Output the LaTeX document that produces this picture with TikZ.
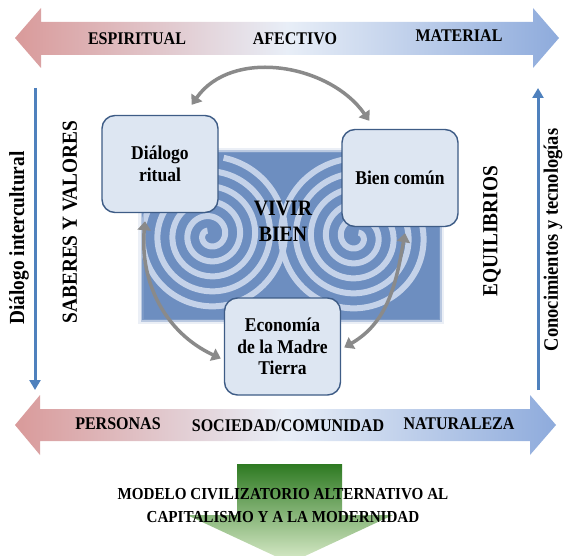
\documentclass[tikz,border=0pt]{standalone}
\usepackage{fontspec}
\setmainfont[FakeStretch=0.9]{Liberation Serif}
\usepackage{tikz}
\usetikzlibrary{arrows.meta}
\definecolor{rosa}{HTML}{D99A9A}
\definecolor{palido}{HTML}{E8EEF7}
\definecolor{azulf}{HTML}{8EABDC}
\definecolor{acero}{HTML}{4F81BD}
\definecolor{fondo}{HTML}{6D8EC0}
\definecolor{espiral}{HTML}{C4D2E9}
\definecolor{caja}{HTML}{DDE6F2}
\definecolor{borde}{HTML}{3E5C86}
\definecolor{gris}{HTML}{8A8A8A}
\definecolor{verdeo}{HTML}{2E7A22}
\definecolor{verdec}{HTML}{DCEDCC}
\tikzset{lbl/.style={font=\fontsize{17.8}{20}\selectfont\bfseries},
vlbl/.style={rotate=90,font=\fontsize{21.5}{24}\selectfont\bfseries},
bloque/.style={draw=borde,fill=caja,line width=1.4pt,rounded corners=13pt,minimum width=116pt,minimum height=97pt,align=center,font=\fontsize{19.5}{21.5}\selectfont\bfseries},
ciclo/.style={draw=gris,line width=3.5pt,{Triangle[length=9pt,width=13pt]}-{Triangle[length=9pt,width=13pt]}},
eje/.style={draw=acero,line width=3pt,-{Triangle[length=10pt,width=11pt]}}}

\begin{document}
\begin{tikzpicture}[x=1pt,y=1pt]
\useasboundingbox (0,0) rectangle (565,-556);
\clip (0,0) rectangle (565,-556);
\shade[left color=rosa,right color=azulf,middle color=palido] (15,-38) -- (41,-8) -- (41,-22) -- (533,-22) -- (533,-8) -- (559,-38) -- (533,-68) -- (533,-55) -- (41,-55) -- (41,-68) -- cycle;
\node[lbl] (espiritual) at (137,-39) {ESPIRITUAL};
\node[lbl] (afectivo) at (295,-39) {AFECTIVO};
\node[lbl] (material) at (459,-36) {MATERIAL};

\shade[left color=rosa,right color=azulf,middle color=palido] (15,-425) -- (40,-395) -- (40,-409) -- (530,-409) -- (530,-395) -- (556,-425) -- (530,-455) -- (530,-441) -- (40,-441) -- (40,-455) -- cycle;
\node[lbl] (personas) at (118,-424) {PERSONAS};
\node[lbl] (sociedad) at (288,-426) {SOCIEDAD/COMUNIDAD};
\node[lbl] (naturaleza) at (459,-424) {NATURALEZA};

\draw[fondo!40!white,opacity=0.35,line width=8pt] (142,-152) rectangle (440,-320);
\fill[fondo] (142,-152) rectangle (440,-320);
\begin{scope}
\clip (142,-152) rectangle (440,-320);
\draw[espiral,line width=6pt] plot[domain=120:1880,samples=300,smooth] ({210+0.0417*\x*cos(\x)},{-235+0.0417*\x*sin(\x)});
\draw[espiral,line width=6pt] plot[domain=120:1880,samples=300,smooth] ({356-0.0417*\x*cos(\x)},{-237+0.0417*\x*sin(\x)});
\end{scope}
\draw[fondo!80!white,opacity=0.5,line width=3pt] (142,-152) rectangle (440,-320);

\node[font=\fontsize{22}{26}\selectfont\bfseries,align=center] (vivir) at (283,-221) {VIVIR\\BIEN};
\node[bloque] (dialogo) at (160,-164) {Diálogo\\ritual};
\node[bloque] (bien) at (400,-178) {Bien común};
\node[bloque] (economia) at (282.5,-346.5) {Economía\\de la Madre\\Tierra};

\draw[ciclo] ([xshift=-27pt,yshift=10pt]dialogo.north east) to[out=55,in=125] ([xshift=28pt,yshift=8pt]bien.north west);
\draw[ciclo] ([xshift=-15pt,yshift=-8pt]dialogo.south) to[out=-95,in=155] ([xshift=-3pt,yshift=-12pt]economia.west);
\draw[ciclo] ([xshift=5pt,yshift=-6pt]bien.south) to[out=-100,in=30] ([xshift=3pt,yshift=-1pt]economia.east);

\coordinate (izqa) at (35,-88);
\coordinate (izqb) at (35,-390);
\draw[eje] (izqa) -- (izqb);
\coordinate (dera) at (538,-390);
\coordinate (derb) at (538,-88);
\draw[eje] (dera) -- (derb);
\node[vlbl] (intercultural) at (19,-238) {Diálogo intercultural};
\node[vlbl] (saberes) at (70,-222) {SABERES Y VALORES};
\node[vlbl] (equilibrios) at (492,-231) {EQUILIBRIOS};
\node[vlbl,font=\fontsize{20.5}{23}\selectfont\bfseries] (conocimientos) at (553,-240) {Conocimientos y tecnologías};

\shade[top color=verdeo,bottom color=verdec] (237,-464) -- (342,-464) -- (342,-515) -- (393,-515) -- (290,-563) -- (187,-515) -- (237,-515) -- cycle;
\node[font=\fontsize{16.8}{23}\selectfont\bfseries,align=center] (modelo) at (283,-506) {MODELO CIVILIZATORIO ALTERNATIVO AL\\CAPITALISMO Y A LA MODERNIDAD};
\end{tikzpicture}
\end{document}
